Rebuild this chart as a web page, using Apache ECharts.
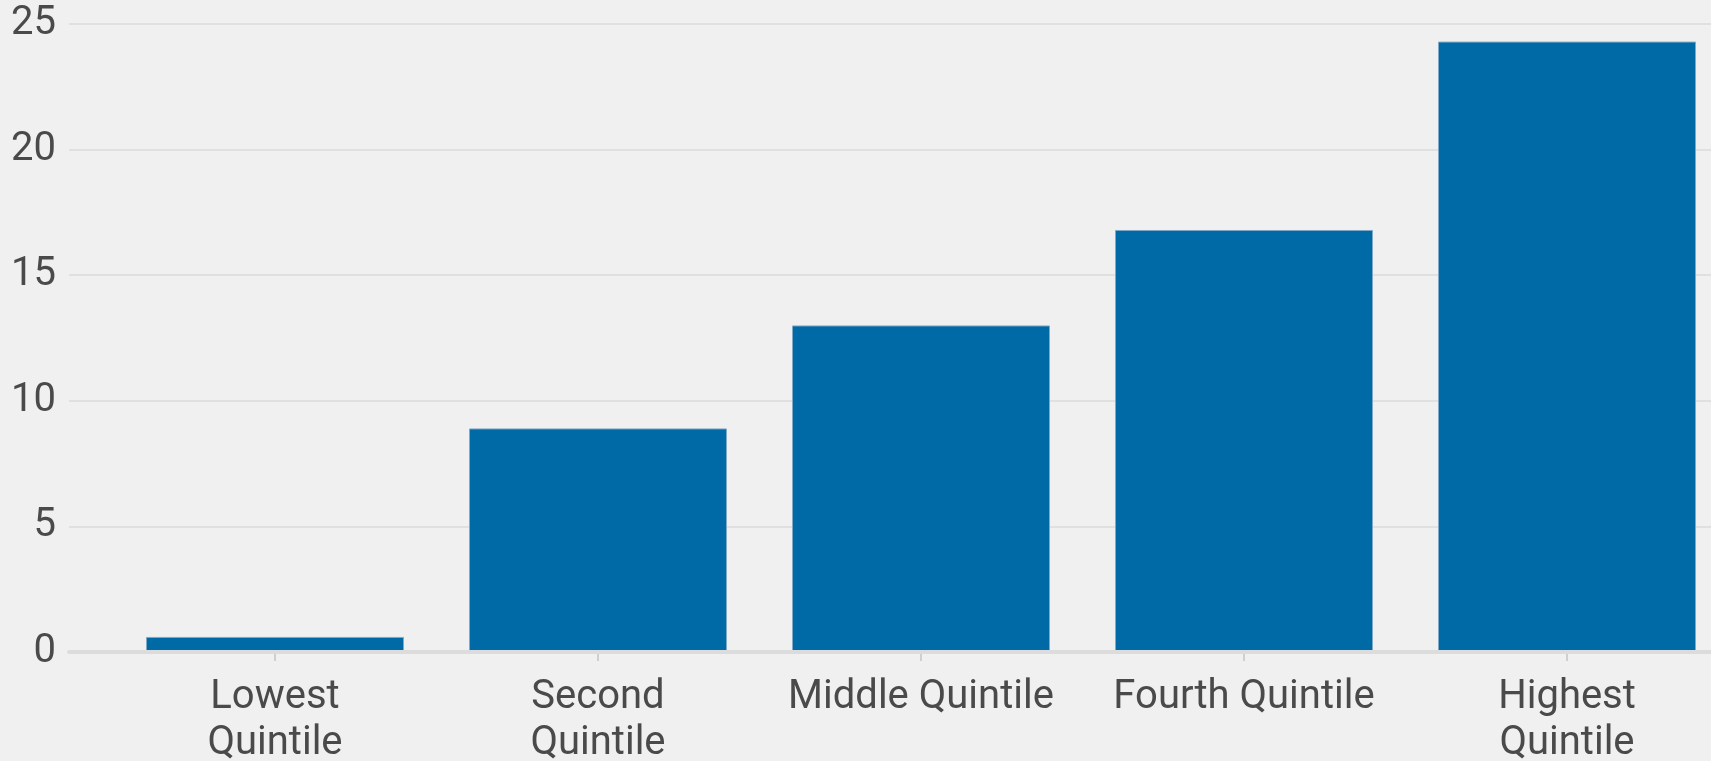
<!DOCTYPE html>
<html>
<head>
<meta charset="utf-8">
<script src="https://cdn.jsdelivr.net/npm/echarts@6/dist/echarts.min.js"></script>
<style>
html,body{margin:0;padding:0;background:#f0f0f0;}
#chart{width:1711px;height:761px;}
</style>
</head>
<body>
<div id="chart"></div>
<script>
var categories = ['Lowest\nQuintile', 'Second\nQuintile', 'Middle Quintile', 'Fourth Quintile', 'Highest\nQuintile'];
var values = [0.6, 8.9, 13.0, 16.8, 24.3];
var yTicks = [0, 5, 10, 15, 20, 25];

var FONT = 'Roboto';
var TEXT = '#4a4a4a';
var chart = echarts.init(document.getElementById('chart'));
chart.setOption({
  backgroundColor: '#f0f0f0',
  animation: false,
  grid: [
    {left: 113.5, width: 1615, top: 24, bottom: 109, outerBoundsMode: 'none', containLabel: false},
    {left: 69, right: 0, top: 24, bottom: 109, outerBoundsMode: 'none', containLabel: false}
  ],
  xAxis: [
    {
      type: 'category', gridIndex: 0, data: categories,
      axisLine: {show: false},
      axisTick: {show: true, alignWithLabel: true, length: 9, lineStyle: {color: '#cfcfcf', width: 2}},
      axisLabel: {fontFamily: FONT, fontSize: 40, color: TEXT, margin: 23, lineHeight: 46, interval: 0}
    },
    {
      type: 'value', gridIndex: 1, min: 0, max: 1, z: 5,
      axisLine: {show: true, lineStyle: {color: '#dcdcdc', width: 4}},
      axisTick: {show: false}, axisLabel: {show: false}, splitLine: {show: false}
    }
  ],
  yAxis: [
    {type: 'value', gridIndex: 0, min: yTicks[0], max: yTicks[yTicks.length - 1], interval: 5, show: false},
    {
      type: 'value', gridIndex: 1, min: yTicks[0], max: yTicks[yTicks.length - 1], interval: 5,
      axisLine: {show: false}, axisTick: {show: false},
      axisLabel: {fontFamily: FONT, fontSize: 40, color: TEXT, margin: 13},
      splitLine: {show: true, lineStyle: {color: '#e0e0e0', width: 2}}
    }
  ],
  series: [{
    type: 'bar', xAxisIndex: 0, yAxisIndex: 0,
    data: values, barWidth: 258,
    itemStyle: {color: '#006aa7', borderColor: '#7fa9c6', borderWidth: 1}
  }]
});
</script>
</body>
</html>
